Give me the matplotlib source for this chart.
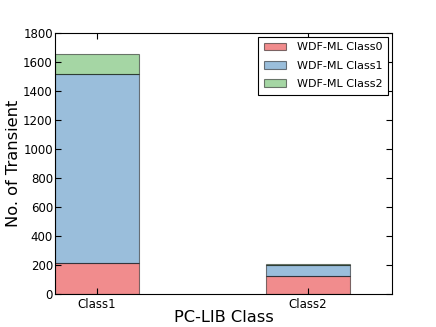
import matplotlib
matplotlib.use("Agg")
import matplotlib.pyplot as plt
import numpy as np

categories = ["Class1", "Class2"]
series_names = ["WDF-ML Class0", "WDF-ML Class1", "WDF-ML Class2"]
class0 = [214, 124]
class1 = [1303, 76]
class2 = [138, 7]
colors = ["#e41a1c", "#377eb8", "#4daf4a"]

fig = plt.figure(figsize=(4.36, 3.27), dpi=100)
ax = fig.add_axes([55/436, 1 - 294/327, (392-55)/436, (294-33)/327])
x = np.arange(len(categories))
bottom = np.zeros(len(categories))
for vals, name, c in zip([class0, class1, class2], series_names, colors):
    ax.bar(x, vals, width=0.4, bottom=bottom, color=c, alpha=0.5,
           edgecolor="black", linewidth=0.8, label=name)
    bottom += np.array(vals)

ax.set_xlim(-0.2, 1.4)
ax.set_ylim(0, 1800)
ax.set_yticks(np.arange(0, 1801, 200))
ax.set_xticks(x)
ax.set_xticklabels(categories)
ax.tick_params(direction="in", top=True, right=True, labelsize=8.5, length=4)
ax.tick_params(axis="y", pad=1.5)
ax.tick_params(axis="x", pad=3)
ax.set_ylabel("No. of Transient", fontsize=11.7, labelpad=1.5)
ax.set_xlabel("PC-LIB Class", fontsize=11.7, labelpad=-1)
leg = ax.legend(loc="upper right", fontsize=8, fancybox=False, framealpha=1,
                edgecolor="black", borderaxespad=0.35, labelspacing=0.75,
                handletextpad=1.0, borderpad=0.5)
leg.get_frame().set_linewidth(0.8)
fig.savefig("out.png", dpi=100)
